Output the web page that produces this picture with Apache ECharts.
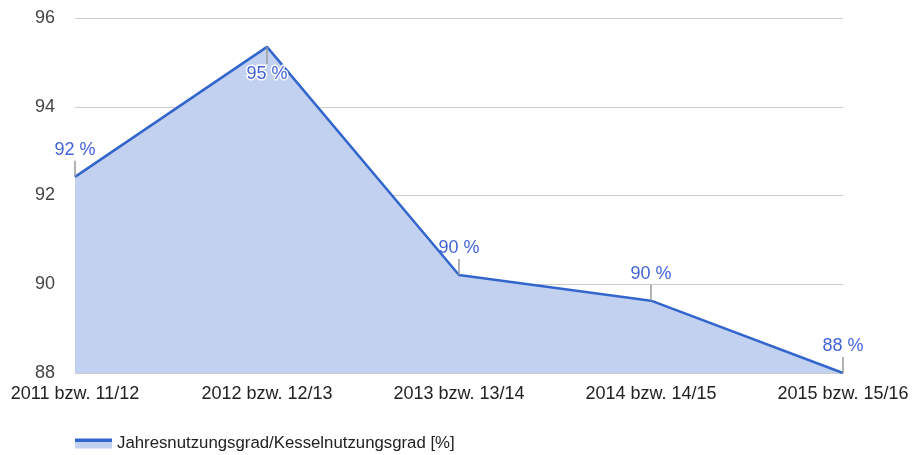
<!DOCTYPE html>
<html><head><meta charset="utf-8">
<script src="https://cdn.jsdelivr.net/npm/echarts@6/dist/echarts.min.js"></script>
<style>html,body{margin:0;padding:0;background:#fff}#c{width:914px;height:455px}</style>
</head><body><div id="c"></div>
<script>
const categories = ['2011 bzw. 11/12','2012 bzw. 12/13','2013 bzw. 13/14','2014 bzw. 14/15','2015 bzw. 15/16'];
const values = [92.42, 95.35, 90.21, 89.63, 88.0];
const labelsBelow = [false, true, false, false, false];
const yTicks = {min: 88, max: 96, interval: 2};
const seriesName = 'Jahresnutzungsgrad/Kesselnutzungsgrad [%]';

const chart = echarts.init(document.getElementById('c'), null, {renderer:'canvas'});
const font = 'Arial, "Liberation Sans", sans-serif';
const lineColor = '#3366cc';
const fillColor = '#c2d1f0';

const lineData = values.map((v, i) => ({
  value: v,
  label: labelsBelow[i]
    ? {position: 'bottom', distance: 18, textBorderColor: '#fff', textBorderWidth: 3}
    : {position: 'top', distance: 17}
}));

chart.setOption({
  animation: false,
  grid: {left: 75, right: 71, top: 18, bottom: 82},
  xAxis: {
    type: 'category', data: categories, boundaryGap: false,
    axisLine: {show: false}, axisTick: {show: false},
    axisLabel: {color: '#222', fontFamily: font, fontSize: 18, margin: 12, interval: 0, hideOverlap: false}
  },
  yAxis: {
    type: 'value', min: yTicks.min, max: yTicks.max, interval: yTicks.interval,
    axisLine: {show: false}, axisTick: {show: false},
    axisLabel: {color: '#444', fontFamily: font, fontSize: 18, margin: 20},
    splitLine: {lineStyle: {color: '#cccccc', width: 1}}
  },
  legend: {
    left: 70, top: 430,
    itemWidth: 37, itemHeight: 10, itemGap: 10,
    textStyle: {color: '#222', fontFamily: font, fontSize: 16.8},
    data: [{
      name: seriesName, icon: 'rect',
      itemStyle: {color: new echarts.graphic.LinearGradient(0,0,0,1,[
        {offset:0,color:lineColor},{offset:0.3,color:lineColor},
        {offset:0.3,color:fillColor},{offset:1,color:fillColor}])}
    }]
  },
  series: [
    {
      name: seriesName, type: 'line', data: lineData,
      symbol: 'circle', symbolSize: 1, showSymbol: true, z: 2,
      lineStyle: {color: lineColor, width: 2.5},
      areaStyle: {color: fillColor, opacity: 1, origin: 'start'},
      itemStyle: {color: 'rgba(0,0,0,0)'},
      label: {
        show: true, color: '#4262d8', fontFamily: font, fontSize: 18,
        formatter: p => Math.round(p.value) + ' %'
      }
    },
    {
      type: 'custom', z: 3, silent: true, legendHoverLink: false,
      data: values.map((v, i) => [i, v]),
      renderItem: (params, api) => {
        const p = api.coord([api.value(0), api.value(1)]);
        const idx = params.dataIndex;
        const dy = labelsBelow[idx] ? 17 : -16;
        return {
          type: 'line',
          shape: {x1: p[0], y1: p[1], x2: p[0], y2: p[1] + dy},
          style: {stroke: '#999999', lineWidth: 1.5}
        };
      }
    }
  ]
});
</script></body></html>
